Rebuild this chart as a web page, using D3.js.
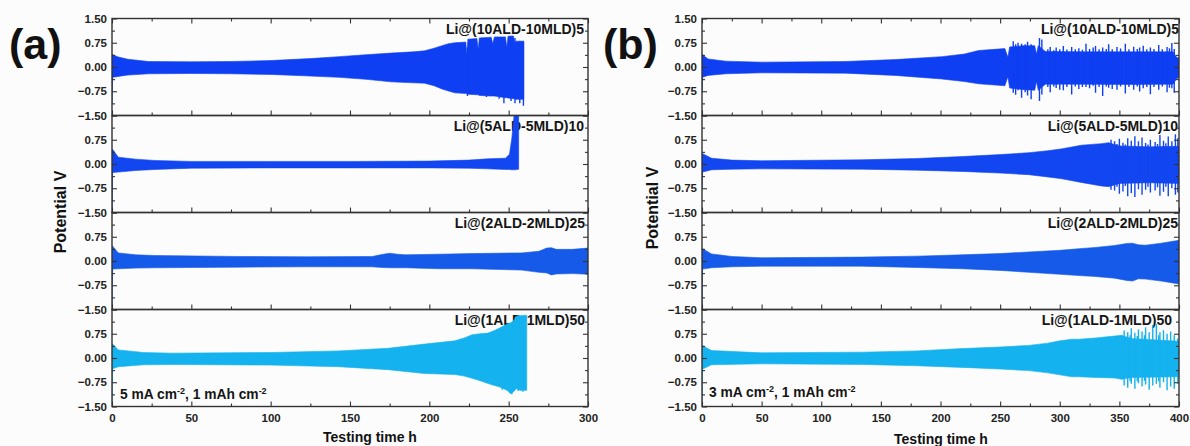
<!DOCTYPE html>
<html><head><meta charset="utf-8">
<script src="https://cdn.jsdelivr.net/npm/d3@7"></script>
<style>
body{margin:0;background:#fcfcfc;}
svg{display:block;font-family:Arial,"Liberation Sans",sans-serif;}
</style>
</head><body>
<svg id="chart" width="1190" height="446"></svg>
<script>
// ---------- DATA ----------
const seriesNames = ["Li@(10ALD-10MLD)5","Li@(5ALD-5MLD)10","Li@(2ALD-2MLD)25","Li@(1ALD-1MLD)50"];
const xTicksA = [0,50,100,150,200,250,300];
const xMinorA = [25,75,125,175,225,275];
const xTicksB = [0,50,100,150,200,250,300,350,400];
const xMinorB = [25,75,125,175,225,275,325,375];
const yTicks = [-1.5,-0.75,0,0.75,1.5];
const yMinor = [-1.125,-0.375,0.375,1.125];

// envelopes: [time h, upper V, lower V]
const A1 = [[0,0.40,-1.13],[0.4,0.38,-0.32],[4,0.31,-0.29],[10,0.24,-0.25],[23,0.17,-0.21],[50,0.16,-0.20],[75,0.17,-0.21],[100,0.20,-0.23],[125,0.26,-0.28],[143,0.32,-0.32],[160,0.38,-0.38],[176,0.43,-0.46],[190,0.47,-0.49],[197,0.50,-0.50],[203,0.58,-0.58],[208,0.66,-0.68],[212,0.72,-0.74],[216,0.75,-0.80],[223,0.77,-0.82],[223.6,0.36,-0.82],[224.3,0.86,-0.84],[230,0.88,-0.86],[230.8,0.55,-0.86],[231.5,0.90,-0.88],[239,0.92,-0.90],[240,0.72,-0.90],[241,0.93,-0.90],[248,0.93,-0.95],[248.8,0.60,-0.95],[249.6,0.95,-0.96],[253,0.96,-0.98],[253.8,0.75,-0.98],[254.6,0.80,-1.00],[259.5,0.80,-1.00]];
const A1s = [[224,0.6,-0.90],[236,0.9,-0.93],[244,0.9,-0.98],[247,0.9,-1.12],[251.5,0.9,-1.05],[254,0.9,-1.12],[257,0.8,-1.12],[259.3,0.8,-1.20]];
const A2 = [[0,0.47,-1.5],[0.4,0.45,-0.26],[4,0.21,-0.25],[15,0.15,-0.20],[27,0.11,-0.17],[50,0.08,-0.13],[100,0.08,-0.12],[150,0.08,-0.12],[200,0.09,-0.12],[225,0.12,-0.13],[237,0.16,-0.15],[248,0.18,-0.17],[250.5,0.30,-0.17],[252,0.80,-0.18],[253.5,1.55,-0.18],[255.5,1.55,-0.17],[256.3,1.55,-0.16]];
const A2s = [];
const A3 = [[0,0.48,-1.5],[0.4,0.46,-0.25],[4,0.25,-0.24],[15,0.19,-0.22],[27,0.17,-0.21],[80,0.14,-0.19],[122,0.13,-0.18],[164,0.14,-0.18],[170,0.20,-0.20],[175,0.24,-0.21],[180,0.21,-0.21],[185,0.19,-0.21],[206,0.21,-0.24],[227,0.23,-0.24],[258,0.25,-0.28],[269,0.30,-0.35],[274,0.40,-0.37],[277,0.41,-0.43],[280,0.36,-0.40],[290,0.36,-0.39],[300,0.40,-0.41]];
const A3s = [];
const A4 = [[0,0.45,-1.5],[0.4,0.43,-0.33],[4,0.25,-0.27],[20,0.17,-0.21],[38,0.15,-0.20],[100,0.17,-0.22],[143,0.22,-0.27],[174,0.30,-0.36],[197,0.43,-0.48],[216,0.53,-0.51],[222,0.62,-0.56],[227,0.72,-0.63],[232,0.75,-0.70],[237,0.77,-0.79],[241,0.85,-0.85],[244,0.92,-0.89],[249,1.05,-1.00],[251,1.08,-1.10],[253,1.15,-1.05],[255,1.30,-0.94],[257,1.31,-1.00],[261.4,1.32,-1.00]];
const A4s = [[246,0.9,-0.98],[252,1.0,-1.12],[256,1.2,-1.02],[259,1.2,-1.04]];

const B1 = [[0,0.40,-0.79],[0.5,0.38,-0.32],[5,0.25,-0.26],[20,0.18,-0.21],[50,0.15,-0.18],[120,0.17,-0.19],[162,0.23,-0.26],[201,0.32,-0.37],[220,0.40,-0.45],[232,0.51,-0.52],[254,0.57,-0.58],[256.5,0.30,-0.30],[258,0.62,-0.65],[270,0.66,-0.70],[279,0.66,-0.72],[280.5,0.40,-0.45],[282,0.66,-0.72],[288,0.48,-0.53],[320,0.47,-0.53],[360,0.47,-0.54],[395,0.47,-0.53],[398,0.30,-0.36],[400,0.27,-0.32]];
const B1s = [[261,0.80,-0.80],[263,0.70,-0.86],[265,0.75,-0.72],[268,0.72,-0.95],[271,0.70,-0.78],[273,0.78,-0.88],[276,0.70,-1.0],[283,0.90,-1.05],[285,0.85,-0.85],[290,0.55,-0.62],[292,0.62,-0.78],[295,0.52,-0.60],[297,0.60,-0.65],[300,0.55,-0.70],[303,0.65,-0.72],[306,0.54,-0.62],[310,0.62,-0.85],[313,0.55,-0.60],[316,0.58,-0.68],[319,0.53,-0.62],[322,0.72,-0.62],[325,0.56,-0.66],[328,0.60,-0.58],[330,0.65,-0.80],[333,0.55,-0.62],[336,0.60,-0.90],[339,0.56,-0.60],[341,0.70,-0.64],[344,0.55,-0.68],[348,0.62,-0.70],[351,0.57,-0.60],[355,0.72,-0.82],[358,0.55,-0.62],[362,0.63,-0.70],[365,0.56,-0.60],[367,0.60,-0.76],[370,0.66,-0.66],[373,0.55,-0.62],[376,0.60,-0.84],[379,0.56,-0.62],[383,0.68,-0.70],[386,0.55,-0.60],[390,0.62,-0.78],[392,0.58,-0.64],[394,0.74,-0.66],[396,0.56,-0.80]];
const B2 = [[0,0.34,-0.77],[0.5,0.32,-0.25],[8,0.18,-0.18],[25,0.12,-0.16],[50,0.10,-0.15],[134,0.13,-0.16],[180,0.17,-0.19],[218,0.23,-0.23],[250,0.29,-0.28],[274,0.35,-0.33],[290,0.41,-0.40],[302,0.47,-0.46],[318,0.58,-0.57],[335,0.63,-0.68],[341,0.66,-0.70],[350,0.56,-0.60],[375,0.53,-0.58],[400,0.55,-0.60]];
const B2s = [[343,0.75,-0.80],[346,0.70,-0.82],[348,0.62,-0.70],[350,0.78,-0.92],[353,0.66,-0.85],[355,0.60,-0.68],[357,0.80,-1.0],[360,0.72,-0.90],[363,0.86,-1.02],[366,0.70,-0.78],[369,0.82,-0.95],[372,0.65,-0.80],[374,0.60,-0.70],[376,0.75,-0.88],[380,0.68,-0.82],[382,0.62,-0.72],[384,0.90,-0.98],[387,0.72,-0.86],[389,0.64,-0.70],[391,0.85,-1.0],[394,0.70,-0.75],[397,0.92,-0.95],[399,0.80,-0.88]];
const B3 = [[0,0.40,-1.5],[0.5,0.38,-0.25],[8,0.22,-0.21],[25,0.14,-0.18],[50,0.10,-0.16],[134,0.12,-0.16],[180,0.15,-0.20],[218,0.19,-0.24],[250,0.23,-0.29],[274,0.28,-0.35],[300,0.33,-0.41],[316,0.38,-0.45],[330,0.42,-0.48],[346,0.48,-0.53],[356,0.54,-0.60],[361,0.55,-0.62],[366,0.50,-0.55],[372,0.49,-0.56],[385,0.55,-0.62],[400,0.64,-0.71]];
const B3s = [];
const B4 = [[0,0.40,-1.40],[0.5,0.38,-0.34],[8,0.23,-0.21],[50,0.16,-0.18],[134,0.18,-0.20],[180,0.22,-0.24],[218,0.29,-0.29],[250,0.34,-0.34],[274,0.39,-0.39],[290,0.46,-0.46],[300,0.53,-0.52],[310,0.58,-0.58],[316,0.58,-0.58],[330,0.62,-0.60],[346,0.68,-0.62],[352,0.70,-0.66],[360,0.60,-0.60],[400,0.52,-0.58]];
const B4s = [[354,0.85,-0.85],[357,0.80,-0.92],[359,0.70,-0.72],[360,0.92,-0.80],[363,0.78,-0.95],[365,0.68,-0.72],[366,0.88,-0.78],[369,0.82,-0.88],[371,0.70,-0.70],[372,0.95,-0.82],[375,0.80,-0.98],[378,1.02,-0.85],[381,1.05,-0.80],[383,0.70,-0.72],[384,0.80,-0.92],[387,0.86,-0.75],[390,0.75,-1.00],[393,0.82,-0.88],[396,0.70,-0.95],[399,0.60,-0.80]];

const colors = ["#0f3ff2","#1246f0","#155ae8","#14b2ee"];

// ---------- LAYOUT ----------
const svg = d3.select("#chart");
const panelTop = 18.5, panelH = 97;
const charts = [
  {letter:"(a)", letterX:9, x0:112, x1:588, xMax:300, ticks:xTicksA, minor:xMinorA,
   env:[A1,A2,A3,A4], spk:[A1s,A2s,A3s,A4s], labelX:[584,584,585,585],
   note:["5 mA cm","-2",", 1 mAh cm","-2"], noteX:120, noteY:399, ylabX:60, ylabY:212, xlabX:370, xlabY:442},
  {letter:"(b)", letterX:603, x0:702, x1:1179, xMax:400, ticks:xTicksB, minor:xMinorB,
   env:[B1,B2,B3,B4], spk:[B1s,B2s,B3s,B4s], labelX:[1179,1178,1178,1172],
   note:["3 mA cm","-2",", 1 mAh cm","-2"], noteX:709, noteY:397, ylabX:652, ylabY:208, xlabX:941, xlabY:444}
];

const axisCol = "#333";

charts.forEach((c, ci) => {
  const x = d3.scaleLinear().domain([0, c.xMax]).range([c.x0, c.x1]);
  const g = svg.append("g");

  g.append("text").attr("x", c.letterX).attr("y", 59)
    .attr("font-size", 43).attr("font-weight", "bold").attr("fill", "#111").text(c.letter);

  for (let p = 0; p < 4; p++) {
    const top = panelTop + p * panelH;
    const y = d3.scaleLinear().domain([-1.5, 1.5]).range([top + panelH, top]);
    const pg = g.append("g");
    const clipId = `clip-${ci}-${p}`;
    pg.append("clipPath").attr("id", clipId).append("rect")
      .attr("x", c.x0).attr("y", top).attr("width", c.x1 - c.x0).attr("height", panelH);

    pg.append("text").attr("x", c.labelX[p]).attr("y", top + 15.5)
      .attr("text-anchor", "end").attr("font-size", 14).attr("font-weight", "bold")
      .attr("fill", "#151515").text(seriesNames[p]);

    const area = d3.area()
      .x(d => x(d[0])).y1(d => y(d[1])).y0(d => y(d[2]));
    const tg = pg.append("g").attr("clip-path", `url(#${clipId})`);
    tg.append("path").datum(c.env[p]).attr("d", area).attr("fill", colors[p])
      .attr("stroke", colors[p]).attr("stroke-width", 0.6);
    tg.selectAll("line.sp").data(c.spk[p]).join("line").attr("class", "sp")
      .attr("x1", d => x(d[0])).attr("x2", d => x(d[0]))
      .attr("y1", d => y(d[1])).attr("y2", d => y(d[2]))
      .attr("stroke", colors[p]).attr("stroke-width", 1.4);

    const isBottom = p === 3;
    pg.append("g").attr("transform", `translate(0,${top + panelH})`)
      .call(d3.axisBottom(x).tickValues(c.ticks).tickSizeInner(-5).tickSizeOuter(0).tickPadding(7)
        .tickFormat(isBottom ? d3.format("d") : () => ""));
    pg.append("g").attr("transform", `translate(0,${top + panelH})`)
      .call(d3.axisBottom(x).tickValues(c.minor).tickSize(-3).tickFormat(() => ""));
    if (p === 0) {
      pg.append("g").attr("transform", `translate(0,${top})`)
        .call(d3.axisTop(x).tickValues(c.ticks).tickSize(-5).tickFormat(() => ""));
      pg.append("g").attr("transform", `translate(0,${top})`)
        .call(d3.axisTop(x).tickValues(c.minor).tickSize(-3).tickFormat(() => ""));
    }
    pg.append("g").attr("transform", `translate(${c.x0},0)`)
      .call(d3.axisLeft(y).tickValues(yTicks).tickSizeInner(-5).tickSizeOuter(0).tickPadding(5)
        .tickFormat(v => (p > 0 && v === 1.5) ? "" : d3.format(".2f")(v)));
    pg.append("g").attr("transform", `translate(${c.x0},0)`)
      .call(d3.axisLeft(y).tickValues(yMinor).tickSize(-3).tickFormat(() => ""));
    pg.append("g").attr("transform", `translate(${c.x1},0)`)
      .call(d3.axisRight(y).tickValues(yTicks).tickSize(-5).tickFormat(() => ""));
    pg.append("g").attr("transform", `translate(${c.x1},0)`)
      .call(d3.axisRight(y).tickValues(yMinor).tickSize(-3).tickFormat(() => ""));

    pg.selectAll(".domain").remove();
    pg.selectAll(".tick line").attr("stroke", axisCol).attr("stroke-width", 1.1);
    pg.selectAll(".tick text").attr("font-size", 11.5).attr("font-weight", "bold")
      .attr("fill", "#222").attr("font-family", "Arial, 'Liberation Sans', sans-serif");

    pg.append("rect").attr("x", c.x0).attr("y", top).attr("width", c.x1 - c.x0).attr("height", panelH)
      .attr("fill", "none").attr("stroke", axisCol).attr("stroke-width", 1.4);
  }

  const n = g.append("text").attr("x", c.noteX).attr("y", c.noteY)
    .attr("font-size", 13.8).attr("font-weight", "bold").attr("fill", "#151515");
  n.append("tspan").text(c.note[0]);
  n.append("tspan").attr("dy", -5).attr("font-size", 9).text(c.note[1]);
  n.append("tspan").attr("dy", 5).text(c.note[2]);
  n.append("tspan").attr("dy", -5).attr("font-size", 9).text(c.note[3]);

  g.append("text").attr("transform", `translate(${c.ylabX},${c.ylabY}) rotate(-90)`)
    .attr("text-anchor", "middle").attr("dy", "0.35em").attr("font-size", 16).attr("font-weight", "bold")
    .attr("fill", "#111").text("Potential V");
  g.append("text").attr("x", c.xlabX).attr("y", c.xlabY).attr("text-anchor", "middle")
    .attr("font-size", 14).attr("font-weight", "bold").attr("fill", "#111").text("Testing time h");
});
</script>
</body></html>
